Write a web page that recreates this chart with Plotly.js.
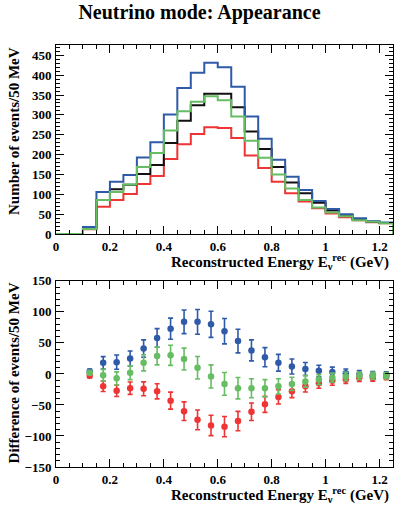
<!DOCTYPE html>
<html>
<head>
<meta charset="utf-8">
<script src="https://cdn.plot.ly/plotly-3.0.1.min.js"></script>
<style>
  html, body { margin: 0; padding: 0; background: #fff; }
  #plot { width: 399px; height: 516px; }
</style>
</head>
<body>
<div id="plot"></div>
<script>
// bins of 50 MeV, 0 - 1.25 GeV
var binWidth = 0.05;
var nBins = 25;

// top panel: events per bin
var histBlack = [0, 0, 14, 86, 113, 124, 151, 174, 229, 285, 324, 353, 353, 319, 258, 214, 169, 130, 103, 79, 59, 48, 38, 31, 28];
var histBlue  = [0, 0, 18, 106, 132, 149, 193, 231, 301, 368, 406, 431, 420, 371, 296, 240, 187, 144, 111, 83, 63, 50, 40, 32, 29];
var histGreen = [0, 0, 13, 86, 106, 125, 169, 204, 261, 309, 333, 347, 337, 296, 235, 192, 150, 115, 86, 67, 54, 45, 35, 31, 27];
var histRed   = [0, 0, 12, 69, 86, 101, 126, 146, 189, 226, 252, 269, 267, 242, 198, 166, 132, 103, 82, 65, 52, 42, 35, 30, 27];

// bottom panel: differences, bins 2..24 (centres 0.125 .. 1.225)
var firstDiffBin = 2;
var diffBlue  = [4, 18, 19, 25, 41, 58, 73, 84, 84, 80, 69, 53, 38, 27, 18, 12, 8, 5, 3, 1, -1, -2, -2];
var errBlue   = [4, 10, 11.5, 12, 14, 15, 17, 19, 20, 21, 20.5, 19, 17, 15.5, 13.5, 12, 10.5, 9, 8, 7, 6.3, 5.7, 5.4];
var diffGreen = [2, -2, -7, 2, 18, 29, 30, 24, 10, -4, -16, -23, -23, -23, -20, -16, -12, -9, -6, -4, -3, -3, -3];
var errGreen  = [3.6, 9.3, 10.3, 11.2, 13, 14.3, 16.2, 17.6, 18.2, 18.6, 18.4, 17.2, 15.3, 13.9, 12.2, 10.7, 9.3, 8.2, 7.3, 6.7, 5.9, 5.6, 5.2];
var diffRed   = [-3, -20, -27, -23, -24, -28, -43, -60, -74, -83, -85, -76, -61, -49, -37, -28, -20, -15, -11, -9, -6, -6, -4];
var errRed    = [3.5, 8.3, 9.3, 10, 11.2, 12.1, 13.7, 15, 15.9, 16.4, 16.3, 15.6, 14.1, 12.9, 11.5, 10.1, 9.1, 8.1, 7.2, 6.5, 5.9, 5.5, 5.2];

var cBlue = '#2f5aa8';
var cGreen = '#66bd63';
var cRed = '#ee3434';
var cBlack = '#111111';

var font = 'Liberation Serif, Times New Roman, serif';

function stepTrace(vals, color) {
    var xs = [], ys = [];
    for (var i = 0; i < vals.length; i++) {
        xs.push(+(i * binWidth).toFixed(3));
        ys.push(vals[i]);
    }
    xs.push(+(vals.length * binWidth).toFixed(3));
    ys.push(0);
    return {
        x: xs, y: ys, type: 'scatter', mode: 'lines',
        line: {shape: 'hv', color: color, width: 2},
        xaxis: 'x', yaxis: 'y', hoverinfo: 'skip'
    };
}

function pointTrace(vals, errs, color) {
    var xs = [];
    for (var i = 0; i < vals.length; i++) {
        xs.push(+((firstDiffBin + i + 0.5) * binWidth).toFixed(4));
    }
    return {
        x: xs, y: vals, type: 'scatter', mode: 'markers',
        marker: {color: color, size: 6.5, symbol: 'circle'},
        error_y: {type: 'data', array: errs, visible: true, color: color, thickness: 1.6, width: 2.5},
        xaxis: 'x2', yaxis: 'y2', hoverinfo: 'skip'
    };
}

var data = [
    stepTrace(histRed, cRed),
    stepTrace(histBlack, cBlack),
    stepTrace(histBlue, cBlue),
    stepTrace(histGreen, cGreen),
    pointTrace(diffBlue, errBlue, cBlue),
    pointTrace(diffRed, errRed, cRed),
    pointTrace(diffGreen, errGreen, cGreen)
];

var tickFont = {family: font, size: 13, color: '#000', weight: 'bold'};

function xAxis(anchor) {
    return {
        anchor: anchor, domain: [0, 1], range: [0, 1.25],
        tickmode: 'linear', tick0: 0, dtick: 0.2,
        ticks: 'inside', ticklen: 8, tickcolor: '#000', tickwidth: 1,
        minor: {dtick: 0.05, ticks: 'inside', ticklen: 4, tickcolor: '#000'},
        showline: true, linecolor: '#000', linewidth: 1, mirror: 'allticks',
        showgrid: false, zeroline: false,
        tickprefix: '<b>', ticksuffix: '</b>',
        tickfont: tickFont, ticklabelstandoff: 0
    };
}

function yAxis(anchor, domain, range) {
    return {
        anchor: anchor, domain: domain, range: range,
        tickmode: 'linear', dtick: 50,
        ticks: 'inside', ticklen: 8, tickcolor: '#000', tickwidth: 1,
        minor: {dtick: 10, ticks: 'inside', ticklen: 4, tickcolor: '#000'},
        showline: true, linecolor: '#000', linewidth: 1, mirror: 'allticks',
        showgrid: false, zeroline: false,
        tickprefix: '<b>', ticksuffix: '</b>',
        tickfont: tickFont, ticklabelstandoff: 1
    };
}

var titleFont = {family: font, size: 15, color: '#000', weight: 'bold'};
var xTitle = '<b>Reconstructed Energy E<sub>ν</sub><sup>rec</sup> (GeV)</b>';

var layout = {
    width: 399, height: 516,
    margin: {l: 56, r: 6, t: 45, b: 49},
    paper_bgcolor: '#fff', plot_bgcolor: '#fff',
    showlegend: false,
    font: {family: font, color: '#000'},
    title: {
        text: '<b>Neutrino mode: Appearance</b>',
        font: {family: font, size: 20, color: '#000'},
        x: 0.5, xanchor: 'center', y: 0.99, yanchor: 'top'
    },
    xaxis: xAxis('y'),
    yaxis: yAxis('x', [0.552, 1], [0, 476]),
    xaxis2: xAxis('y2'),
    yaxis2: yAxis('x2', [0, 0.441], [-150, 150]),
    annotations: [
        {text: xTitle, xref: 'paper', yref: 'paper', x: 1, y: 0.552, xanchor: 'right', yanchor: 'top',
         yshift: -16, xshift: -2, showarrow: false, font: titleFont},
        {text: xTitle, xref: 'paper', yref: 'paper', x: 1, y: 0, xanchor: 'right', yanchor: 'top',
         yshift: -16, xshift: -2, showarrow: false, font: titleFont},
        {text: '<b>Number of events/50 MeV</b>', xref: 'paper', yref: 'paper', x: 0, y: 1,
         xanchor: 'center', yanchor: 'top', xshift: -42, textangle: -90, showarrow: false, font: titleFont},
        {text: '<b>Difference of events/50 MeV</b>', xref: 'paper', yref: 'paper', x: 0, y: 0.441,
         xanchor: 'center', yanchor: 'top', xshift: -42, textangle: -90, showarrow: false, font: titleFont}
    ]
};

Plotly.newPlot('plot', data, layout, {displayModeBar: false, staticPlot: true});
</script>
</body>
</html>
